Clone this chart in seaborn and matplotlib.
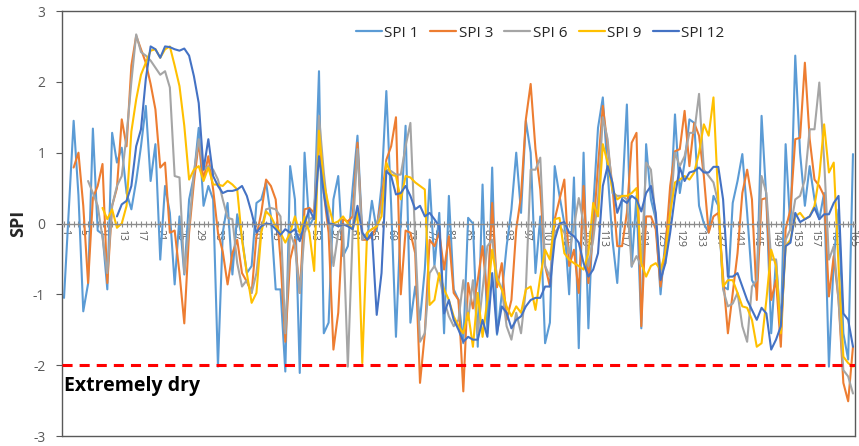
import numpy as np
import pandas as pd
import matplotlib
matplotlib.use("Agg")
import matplotlib.pyplot as plt
import seaborn as sns
from matplotlib.lines import Line2D

nan = np.nan
months = list(range(1, 166))
series_names = ["SPI 1", "SPI 3", "SPI 6", "SPI 9", "SPI 12"]
series_colors = ["#5B9BD5", "#ED7D31", "#A5A5A5", "#FFC000", "#4472C4"]
y_ticks = [-3, -2, -1, 0, 1, 2, 3]
x_tick_labels = list(range(1, 166, 4))
threshold = -2
threshold_label = "Extremely dry"

spi1 = [-1.05, 0.2, 1.45, 0.4, -1.24, -0.85, 1.34, -0.1, -0.15, -0.93,
        1.28, 0.86, 1.07, 0.43, 0.2, 0.6, 1.09, 1.66, 0.6, 1.12,
        -0.51, 0.53, 0.15, -0.86, 0.1, -0.72, 0.34, 0.67, 1.35, 0.25,
        0.53, 0.34, -2.02, -0.13, 0.29, -0.72, 0.13, -0.2, -0.7, -0.6,
        0.29, 0.34, 0.58, 0.1, -0.93, -0.93, -2.09, 0.81, 0.34, -2.11,
        1.0, -0.04, 0.1, 2.15, -1.55, -1.4, 0.34, 0.67, -0.46, -0.32,
        0.5, 1.24, -0.13, -0.23, 0.32, -0.1, 0.53, 1.87, 0.25, -1.6,
        0.06, 1.38, -1.4, -0.89, -1.36, -0.65, 0.62, -0.6, 0.15, -1.55,
        0.39, -0.93, -1.08, -1.69, 0.08, 0.0, -1.74, 0.55, -1.55, 0.79,
        -1.57, -1.0, -0.32, 0.2, 1.0, 0.15, 1.45, 1.0, -0.7, 0.1,
        -1.69, -1.4, 0.81, 0.39, 0.0, -1.0, 0.65, -1.76, 1.0, -1.48,
        0.22, 1.35, 1.78, 0.72, -0.23, -0.84, 0.34, 1.68, -0.61, 0.39,
        -1.48, 1.12, 0.34, 0.06, -1.0, -0.23, 0.15, 1.54, 0.43, 0.86,
        1.47, 1.42, 0.25, 0.0, -0.13, 0.39, 0.25, -0.89, -0.93, 0.29,
        0.6, 0.98, 0.15, -0.8, -0.93, 1.52, 0.34, -1.55, -0.51, -1.5,
        1.12, -0.08, 2.37, 1.0, 0.25, 0.81, 0.34, 0.06, 0.43, -2.02,
        -0.51, 0.2, -1.55, -1.92, 0.98]

spi3 = [nan, nan, 0.79, 1.0, 0.25, -0.84, 0.36, 0.53, 0.84, -0.84,
        0.25, 0.5, 1.47, 1.09, 2.23, 2.65, 2.46, 2.27, 1.97, 1.61,
        0.79, 0.86, -0.13, -0.1, -0.7, -1.41, -0.13, 0.58, 1.14, 0.62,
        0.95, 0.48, -0.13, -0.4, -0.86, -0.42, -0.23, -0.7, -0.82, -0.98,
        -0.18, 0.15, 0.62, 0.53, 0.34, -0.51, -1.67, -0.51, -0.23, -0.98,
        0.2, 0.22, 0.15, 1.28, 0.43, -0.13, -1.78, -1.26, 0.06, 0.03,
        0.1, 1.14, -0.23, -0.23, -0.18, -0.04, 0.34, 0.9, 1.09, 1.5,
        -1.0, -0.1, -0.13, -0.42, -2.25, -1.55, -0.23, -0.32, -0.13, -0.65,
        -0.18, -0.98, -1.08, -2.37, -0.84, -1.2, -0.8, -0.32, -1.08, 0.29,
        -0.9, -0.56, -1.36, -1.08, -0.08, 0.39, 1.47, 1.97, 1.05, 0.48,
        -0.6, -0.89, 0.06, 0.34, 0.62, -0.6, -0.37, -0.98, 0.53, -0.84,
        -0.13, 0.81, 1.66, 1.09, 0.53, -0.32, -0.32, 0.15, 1.14, 1.28,
        -1.45, 0.1, 0.1, -0.08, -0.89, -0.37, 0.53, 1.02, 1.05, 1.59,
        0.81, 1.42, 1.24, 0.67, -0.13, 0.1, 0.15, -0.75, -1.55, -0.98,
        -0.42, 0.43, 0.76, 0.34, -1.08, 0.34, 0.36, -1.08, -0.8, -1.74,
        -0.08, 0.2, 1.19, 1.21, 2.27, 1.19, 0.62, 0.53, 0.39, -1.03,
        -0.46, -1.08, -2.25, -2.51, -1.74]

spi6 = [nan, nan, nan, nan, nan, 0.6, 0.43, 0.25, -0.2, -0.7,
        0.25, 0.53, 0.67, 1.24, 2.0, 2.67, 2.42, 2.37, 2.3, 2.2,
        2.1, 2.15, 1.92, 0.67, 0.65, -0.7, -0.04, 0.72, 1.19, 0.76,
        0.81, 0.76, 0.62, 0.34, 0.08, 0.06, -0.56, -0.89, -0.8, -0.98,
        -0.7, -0.08, 0.2, 0.22, 0.2, 0.1, -1.55, -0.13, -0.32, -0.98,
        -0.13, 0.06, 0.1, 1.52, 0.72, 0.1, -0.6, -0.13, -0.04, -2.02,
        -0.13, 1.05, -0.23, -0.13, -0.08, -0.04, 0.25, 0.76, 0.74, 0.69,
        0.69, 1.09, 1.42, -0.23, -1.67, -1.55, -0.7, -0.6, -0.75, -1.08,
        -1.31, -1.45, -1.36, -0.8, -1.36, -0.8, -1.55, -0.93, -0.32, -0.23,
        -0.75, -0.93, -1.45, -1.64, -1.26, -1.55, -0.93, 0.76, 0.76, 0.93,
        -0.6, -0.75, -0.13, -0.04, -0.13, -0.42, -0.04, 0.36, 0.0, -0.6,
        -0.23, 0.34, 1.5, 1.19, 0.43, 0.39, 0.39, 0.34, -0.6, -0.46,
        -0.6, 0.86, 0.76, 0.06, -0.7, -0.56, 0.15, 1.0, 0.81, 0.95,
        1.28, 1.28, 1.83, 0.76, 0.67, 0.58, 0.29, -0.93, -1.17, -1.13,
        -0.98, -1.45, -1.67, -0.89, -0.8, 0.67, 0.43, -0.51, -0.51, -1.5,
        -0.23, -0.08, 0.34, 0.39, 0.62, 1.33, 1.33, 1.99, 0.9, -0.51,
        -0.32, -1.08, -2.07, -2.16, -2.4]

spi9 = [nan, nan, nan, nan, nan, nan, nan, nan, 0.22, 0.06,
        0.2, -0.06, 0.0, 0.25, 1.3, 1.75, 2.1, 2.27, 2.44, 2.46,
        2.34, 2.46, 2.5, 2.23, 1.94, 1.38, 0.62, 0.76, 0.81, 0.6,
        0.79, 0.55, 0.55, 0.53, 0.6, 0.55, 0.48, -0.23, -0.7, -1.12,
        -0.98, -0.13, 0.17, 0.1, -0.04, -0.13, -0.27, -0.13, 0.1, -0.13,
        0.1, -0.13, -0.67, 1.31, 0.58, 0.25, 0.0, 0.03, 0.1, 0.0,
        -0.08, 0.15, -1.97, -0.13, -0.08, -0.04, 0.1, 0.86, 0.69, 0.67,
        0.34, 0.67, 0.65, 0.58, 0.53, 0.48, -1.15, -1.08, -0.7, -0.93,
        -1.08, -1.31, -1.45, -1.55, -1.26, -1.74, -0.98, -1.6, -1.08, -0.37,
        -0.8, -0.93, -1.17, -1.31, -1.17, -1.26, -0.93, -0.89, -1.22, -0.75,
        -0.37, -0.51, 0.06, 0.08, -0.42, -0.51, -0.56, -0.6, -0.65, -0.42,
        0.29, 0.1, 1.12, 0.86, 0.48, 0.34, 0.39, 0.39, 0.43, 0.5,
        -0.56, -0.75, -0.6, -0.56, -0.65, -0.42, 0.15, 0.58, 0.62, 0.67,
        0.62, 0.72, 1.0, 1.4, 1.24, 1.78, 0.34, -0.89, -0.8, -0.8,
        -0.98, -1.17, -1.19, -1.36, -1.74, -1.69, -1.08, -0.37, -0.6, -1.55,
        -0.32, -0.23, 0.1, 0.15, 0.06, 0.1, 0.25, 0.67, 1.4, 0.72,
        0.86, -0.6, -1.88, -1.97, -2.02]

spi12 = [nan, nan, nan, nan, nan, nan, nan, nan, nan, nan,
         nan, 0.1, 0.27, 0.32, 0.53, 1.09, 1.33, 2.04, 2.5, 2.46,
         2.34, 2.5, 2.49, 2.46, 2.44, 2.47, 2.37, 2.08, 1.7, 0.76,
         1.19, 0.67, 0.53, 0.43, 0.46, 0.46, 0.48, 0.53, 0.39, 0.15,
         -0.13, -0.04, 0.0, -0.01, -0.08, -0.16, -0.08, -0.13, -0.08, -0.25,
         0.0, 0.2, 0.06, 0.95, 0.43, 0.0, -0.01, -0.04, -0.01, -0.04,
         -0.08, 0.25, -0.13, -0.23, -0.13, -1.29, -0.7, 0.74, 0.67, 0.41,
         0.43, 0.53, 0.39, 0.2, 0.25, 0.1, 0.15, 0.06, -0.04, -1.27,
         -1.08, -1.36, -1.5, -1.67, -1.6, -1.64, -1.64, -1.36, -1.6, -0.7,
         -1.55, -1.17, -1.26, -1.48, -1.36, -1.31, -1.17, -1.08, -1.05, -1.05,
         -0.89, -0.89, -0.23, 0.0, 0.02, -0.13, -0.18, -0.27, -0.56, -0.75,
         -0.65, -0.42, 0.53, 0.81, 0.58, 0.15, 0.34, 0.29, 0.39, 0.34,
         0.17, 0.43, 0.53, 0.15, -0.8, -0.56, -0.13, 0.39, 0.79, 0.6,
         0.72, 0.74, 0.79, 0.72, 0.72, 0.8, 0.8, 0.34, -0.75, -0.75,
         -0.7, -0.89, -1.08, -1.22, -1.36, -1.19, -1.27, -1.78, -1.64, -1.45,
         -0.32, -0.27, 0.15, 0.02, 0.06, 0.1, 0.22, 0.06, 0.13, 0.13,
         0.29, 0.39, -1.27, -1.36, -1.74]

all_series = [spi1, spi3, spi6, spi9, spi12]
frames = []
for name, vals in zip(series_names, all_series):
    frames.append(pd.DataFrame({"month": months, "value": vals, "series": name}))
df = pd.concat(frames, ignore_index=True).dropna()

sns.set_theme(style="white")
plt.rcParams["font.family"] = ["Open Sans", "DejaVu Sans"]

fig = plt.figure(figsize=(8.59, 4.46), dpi=100)
ax = fig.add_axes([62 / 859, 10 / 446, 793 / 859, 425 / 446])

sns.lineplot(data=df, x="month", y="value", hue="series",
             hue_order=series_names, palette=series_colors,
             estimator=None, sort=True, linewidth=1.5, legend=False, ax=ax)

ax.axhline(threshold, color="#FF0000", lw=2.2, dashes=(3.3, 2.3), zorder=5)
ax.text(1.0, -2.37, threshold_label, fontsize=14, fontweight="bold",
        color="black", ha="left", va="baseline")

ax.set_xlim(0.58, 165.42)
ax.set_ylim(-3, 3)

# zero category axis
ax.spines["bottom"].set_position(("data", 0))
ax.spines["bottom"].set_color("#8C8C8C")
ax.spines["bottom"].set_linewidth(1.0)
for s in ["top", "left", "right"]:
    ax.spines[s].set_color("#595959")
    ax.spines[s].set_linewidth(1.0)
ax.plot([0, 1], [0, 0], transform=ax.transAxes, color="#595959", lw=1.0,
        clip_on=False, zorder=6)

ax.set_xticks(x_tick_labels)
ax.set_xticklabels([str(v) for v in x_tick_labels], rotation=270,
                   fontsize=7.5, color="#595959")
ax.set_xticks(months, minor=True)
ax.tick_params(axis="x", which="both", direction="inout", length=5,
               width=0.8, color="#8C8C8C", pad=1.5, bottom=True)
ax.set_xlabel("")

ax.set_yticks(y_ticks)
ax.set_yticklabels([str(v) for v in y_ticks], fontsize=10, color="#595959")
ax.tick_params(axis="y", which="major", direction="out", length=4,
               width=0.8, color="#595959", pad=8, left=True)
ax.set_ylabel("SPI", fontsize=13, fontweight="bold", labelpad=4)

handles = [Line2D([0], [0], color=c, lw=1.6) for c in series_colors]
ax.legend(handles, series_names, ncol=5, loc="center",
          bbox_to_anchor=(0.603, 0.948), frameon=False, fontsize=11,
          handlelength=1.7, handletextpad=0.15, columnspacing=0.75)

ax.grid(False)
fig.savefig("out.png", dpi=100)
